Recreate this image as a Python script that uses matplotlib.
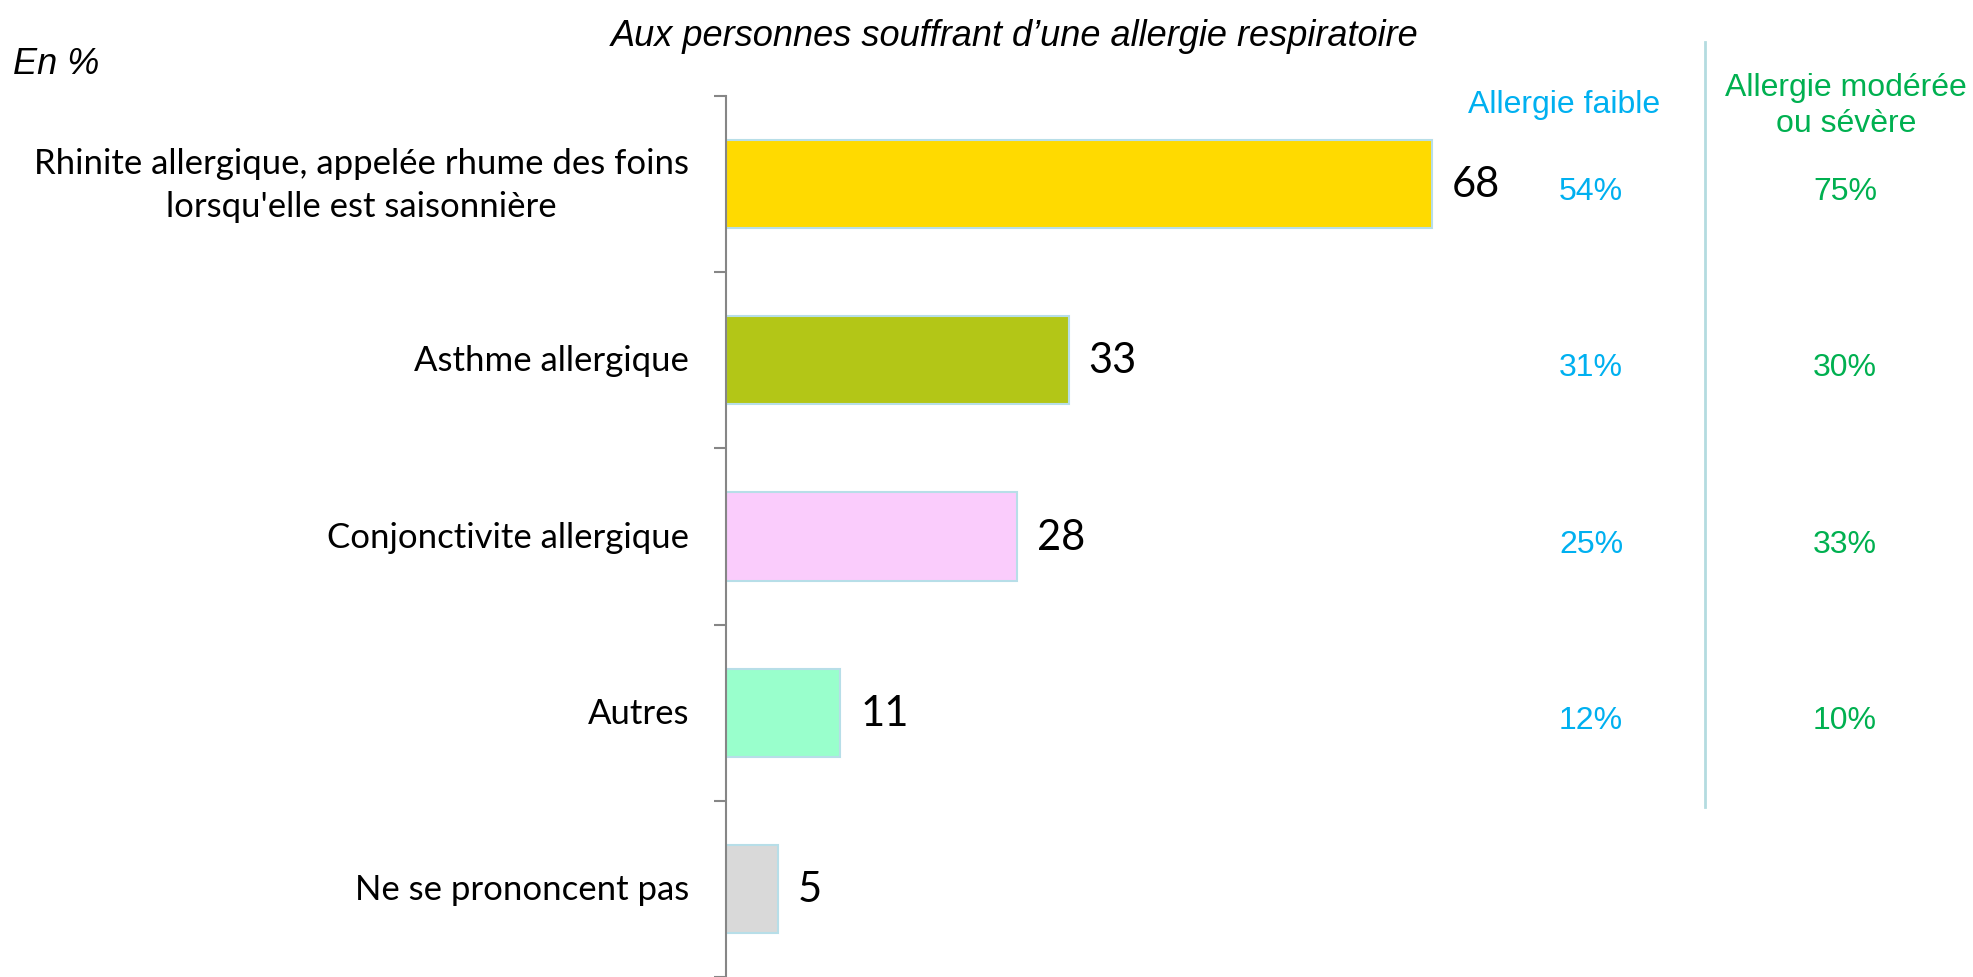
import numpy as np
import matplotlib
matplotlib.use('Agg')
import matplotlib.pyplot as plt
import matplotlib.transforms as mtransforms

# données
categories = ["Rhinite allergique, appelée rhume des foins\nlorsqu'elle est saisonnière",
              "Asthme allergique",
              "Conjonctivite allergique",
              "Autres",
              "Ne se prononcent pas"]
values = [68, 33, 28, 11, 5]
faible = ["54%", "31%", "25%", "12%"]
severe = ["75%", "30%", "33%", "10%"]
bar_colors = ["#FFDA00", "#B3C617", "#FACCFC", "#99FFCC", "#D9D9D9"]

W, H = 1973, 978
fig = plt.figure(figsize=(W / 100, H / 100), dpi=100)

# axe : x=726 px, haut=97 px, 10.38 px par unité
ax = fig.add_axes([726 / W, 0, 1 - 726 / W, 1 - 97 / H])
y = np.arange(len(values))
ax.barh(y, values, height=0.5, color=bar_colors, edgecolor="#B7DEE8", linewidth=1.5)
ax.set_ylim(len(values) - 0.5, -0.5)
ax.set_xlim(0, (W - 726) / 10.38)

for s in ["top", "right", "bottom"]:
    ax.spines[s].set_visible(False)
ax.spines["left"].set_color("#868686")
ax.spines["left"].set_linewidth(1.5)
ax.set_xticks([])
ax.set_yticks(np.arange(len(values) + 1) - 0.5)
ax.set_yticklabels([])
ax.tick_params(axis="y", length=9, width=1.5, color="#868686", direction="out")

# libellés des catégories
for i, c in enumerate(categories):
    ax.annotate(c, xy=(0, i), xycoords=("axes fraction", "data"),
                xytext=(-37, 0), textcoords="offset pixels",
                ha="right", va="center", multialignment="center",
                fontsize=25, family="Lato", color="black", linespacing=1.42)

# valeurs
for i, v in enumerate(values):
    ax.annotate(str(v), xy=(v, i), xytext=(20, 0), textcoords="offset pixels",
                ha="left", va="center", fontsize=30, family="Lato")

# colonnes de droite
trans = mtransforms.blended_transform_factory(fig.transFigure, ax.transData)
for i, t in enumerate(faible):
    ax.text(1591 / W, i + 0.04, t, transform=trans, ha="center", va="center",
            fontsize=23, family="Liberation Sans", color="#00B0F0")
for i, t in enumerate(severe):
    ax.text(1845 / W, i + 0.04, t, transform=trans, ha="center", va="center",
            fontsize=23, family="Liberation Sans", color="#00B050")

fig.text(1564 / W, 1 - 105 / H, "Allergie faible", ha="center", va="center",
         fontsize=23, family="Liberation Sans", color="#00B0F0")
fig.text(1846 / W, 1 - 106 / H, "Allergie modérée\nou sévère", ha="center", va="center",
         fontsize=23, family="Liberation Sans", color="#00B050", linespacing=1.25)

fig.add_artist(plt.Line2D([1705 / W, 1705 / W], [1 - 43 / H, 1 - 808 / H],
                          transform=fig.transFigure, color="#B4DCE0", linewidth=2))

# titres
fig.text(1015 / W, 1 - 36 / H, "Aux personnes souffrant d\u2019une allergie respiratoire",
         ha="center", va="center", fontsize=26, style="italic", family="Liberation Sans")
fig.text(13 / W, 1 - 64 / H, "En %", ha="left", va="center",
         fontsize=26, style="italic", family="Liberation Sans")

fig.savefig("out.png", dpi=100)
